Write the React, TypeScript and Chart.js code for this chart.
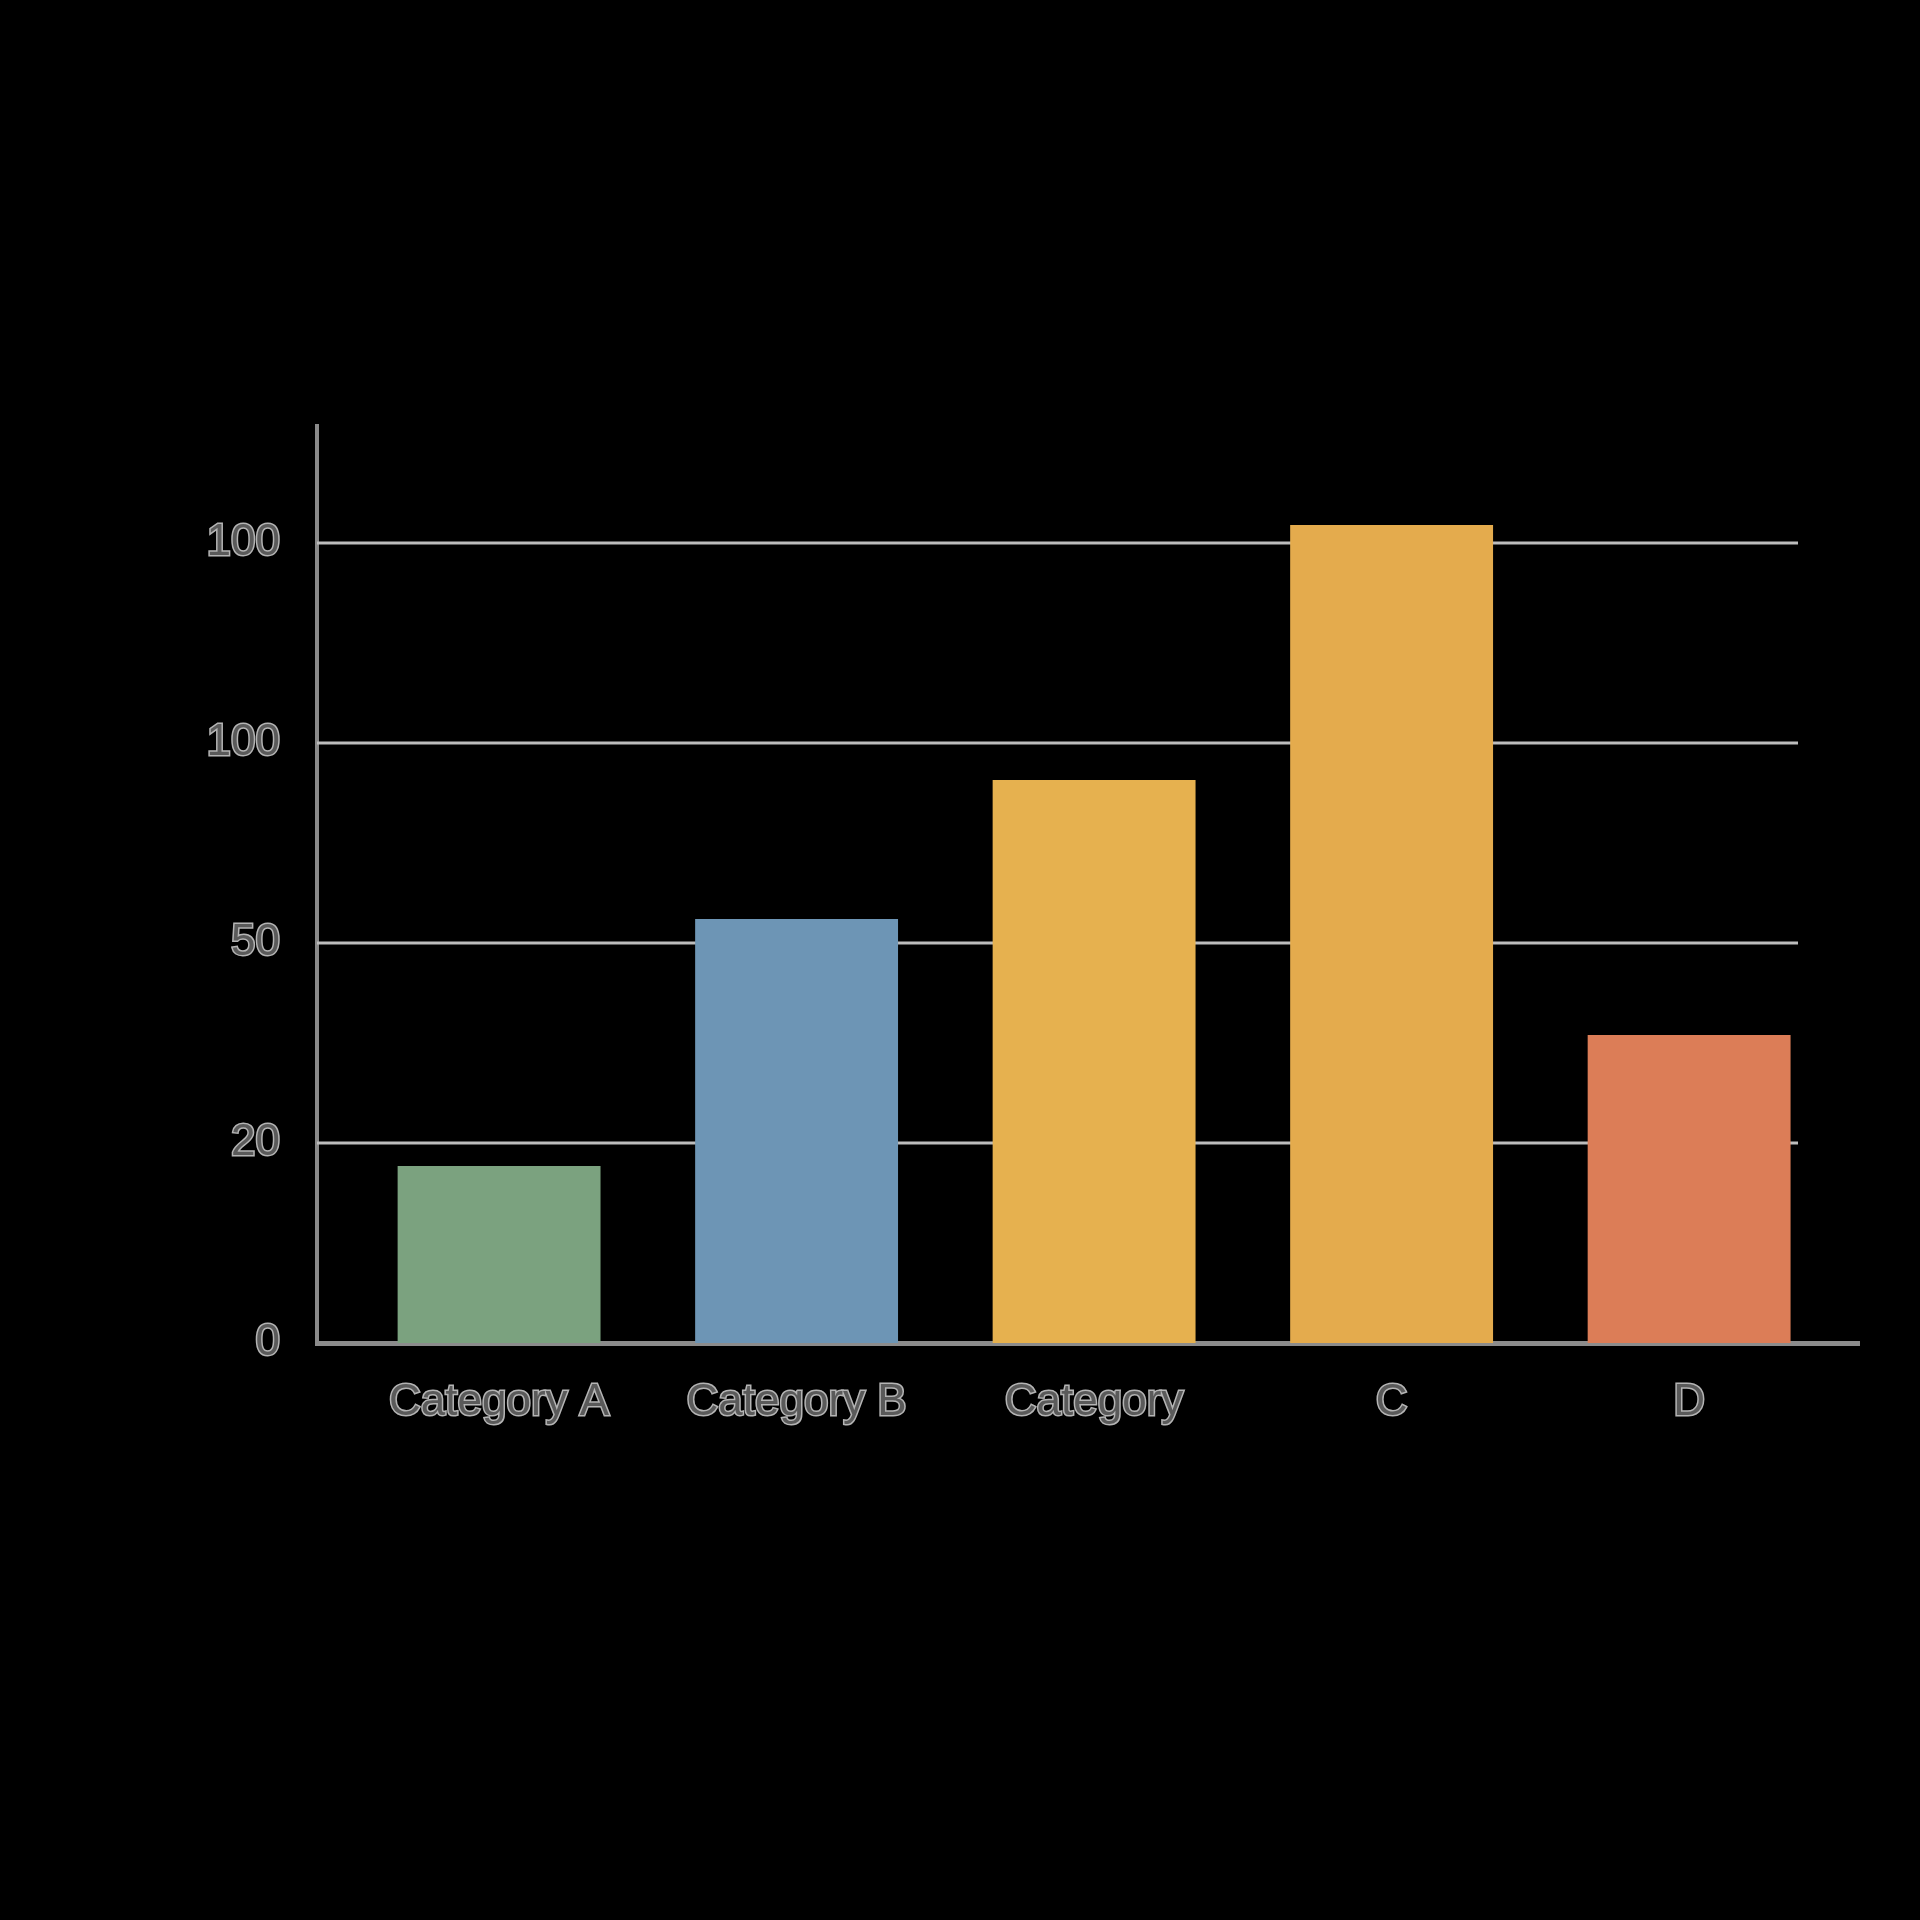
import { useEffect, useRef } from 'react';
import { Chart, registerables } from 'chart.js';
import type { ChartConfiguration, Plugin } from 'chart.js';

Chart.register(...registerables);

// Bar categories and heights. Heights are in axis
// steps: the y axis has five evenly spaced ticks whose printed labels are
// the odd sequence 0, 20, 50, 100, 100.
const categories = ['Category A', 'Category B', 'Category', 'C', 'D'];
const values = [0.885, 2.12, 2.815, 4.09, 1.54];
const barColors = ['#7ba27f', '#6d95b5', '#e6b14f', '#e4ab4d', '#dc7d57'];

const yTickPositions = [0, 1, 2, 3, 4];
const yTickLabels = ['0', '20', '50', '100', '100'];

const Y_MAX = 4.585;
const X_MIN = -0.612;
const X_MAX = 4.571;
const GRID_END = 4.366; // gridlines stop short of the x-axis end

const tickFont = { family: '"Liberation Sans", Arial, sans-serif', size: 44 };

// horizontal gridlines drawn behind bars, ending before the axis end
const gridPlugin: Plugin<'bar'> = {
  id: 'shortGrid',
  beforeDatasetsDraw(chart) {
    const { ctx, chartArea, scales } = chart;
    const x = scales.x;
    const y = scales.y;
    const right = x.getPixelForValue(GRID_END);
    ctx.save();
    ctx.strokeStyle = '#bdbdbd';
    ctx.lineWidth = 3;
    yTickPositions.slice(1).forEach((v) => {
      const py = y.getPixelForValue(v);
      ctx.beginPath();
      ctx.moveTo(chartArea.left, py);
      ctx.lineTo(right, py);
      ctx.stroke();
    });
    ctx.restore();
  },
};

function BarChart() {
  const canvasRef = useRef<HTMLCanvasElement>(null);

  useEffect(() => {
    const canvas = canvasRef.current;
    if (!canvas) return;

    const config: ChartConfiguration<'bar'> = {
      type: 'bar',
      data: {
        datasets: [
          {
            data: values.map((v, i) => ({ x: i, y: v })) as any,
            backgroundColor: barColors,
            borderWidth: 0,
            barPercentage: 0.682,
            categoryPercentage: 1,
          },
        ],
      },
      options: {
        animation: false,
        responsive: false,
        devicePixelRatio: 1,
        layout: { padding: { left: 0, top: 426, right: 61, bottom: 0 } },
        plugins: {
          legend: { display: false },
          tooltip: { enabled: false },
        },
        scales: {
          x: {
            type: 'linear',
            offset: false,
            min: X_MIN,
            max: X_MAX,
            afterBuildTicks: (scale) => {
              scale.ticks = categories.map((_, i) => ({ value: i }));
            },
            afterFit: (scale) => {
              scale.height = 577;
            },
            grid: { display: false, drawTicks: false, offset: false },
            border: { display: true, color: '#8c8c8c', width: 5 },
            ticks: {
              autoSkip: false,
              maxRotation: 0,
              padding: 33,
              font: tickFont,
              color: '#5a5a5a',
              textStrokeColor: '#b4b4b4',
              textStrokeWidth: 3,
              callback: (_v, i) => categories[i],
            },
          },
          y: {
            type: 'linear',
            min: 0,
            max: Y_MAX,
            afterBuildTicks: (scale) => {
              scale.ticks = yTickPositions.map((v) => ({ value: v }));
            },
            afterFit: (scale) => {
              scale.width = 317;
            },
            grid: { display: false, drawTicks: false },
            border: { display: true, color: '#8a8a8a', width: 4 },
            ticks: {
              padding: 37,
              font: tickFont,
              color: '#5a5a5a',
              textStrokeColor: '#b4b4b4',
              textStrokeWidth: 3,
              callback: (_v, i) => yTickLabels[i],
            },
          },
        },
      },
      plugins: [gridPlugin],
    };

    const chart = new Chart(canvas, config);
    return () => chart.destroy();
  }, []);

  return <canvas ref={canvasRef} width={1920} height={1920} />;
}

export default function App() {
  return (
    <div
      style={{
        position: 'fixed',
        left: 0,
        top: 0,
        width: 1920,
        height: 1920,
        background: '#000',
      }}
    >
      <BarChart />
    </div>
  );
}
